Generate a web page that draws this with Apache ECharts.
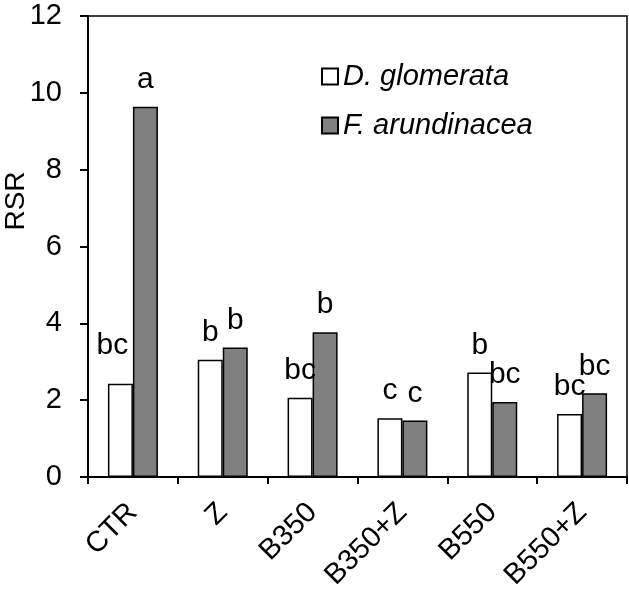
<!DOCTYPE html>
<html>
<head>
<meta charset="utf-8">
<script src="https://cdn.jsdelivr.net/npm/echarts@6/dist/echarts.min.js"></script>
<style>html,body{margin:0;padding:0;background:#fff;}#c{width:629px;height:602px;}</style>
</head>
<body>
<div id="c"></div>
<script>
var categories = ['CTR', 'Z', 'B350', 'B350+Z', 'B550', 'B550+Z'];
var seriesNames = ['D. glomerata', 'F. arundinacea'];
var glomerata = [2.43, 3.05, 2.06, 1.53, 2.72, 1.64];
var arundinacea = [9.64, 3.37, 3.77, 1.47, 1.95, 2.18];
var glomerataLetters = ['bc', 'b', 'bc', 'c', 'b', 'bc'];
var arundinaceaLetters = ['a', 'b', 'b', 'c', 'bc', 'bc'];
var yTicks = [0, 2, 4, 6, 8, 10, 12];

var FONT = 'Liberation Sans, Arial, sans-serif';

function buildData(vals, letters, special) {
  return vals.map(function (v, i) {
    var d = { value: v, label: { formatter: letters[i] } };
    if (special && special[i]) d.label.offset = special[i];
    return d;
  });
}

var chart = echarts.init(document.getElementById('c'), null, { renderer: 'canvas' });
var labelStyle = { show: true, position: 'top', distance: 12, color: '#000', fontSize: 30, fontFamily: FONT };

chart.setOption({
  animation: false,
  backgroundColor: '#fff',
  grid: { left: 88, right: 2, top: 16, bottom: 125, show: true, borderColor: '#000', borderWidth: 1.5, backgroundColor: 'transparent' },
  legend: {
    orient: 'vertical', left: 316, top: 57, itemWidth: 16, itemHeight: 16, itemGap: 20,
    icon: 'rect',
    textStyle: { fontSize: 29, fontStyle: 'italic', fontFamily: FONT, color: '#000' },
    data: seriesNames
  },
  xAxis: {
    type: 'category', data: categories,
    axisLine: { lineStyle: { color: '#000', width: 2 } },
    axisTick: { show: true, length: 7, lineStyle: { color: '#000', width: 2 } },
    axisLabel: { rotate: 45, fontSize: 29, color: '#000', fontFamily: FONT, margin: 31, interval: 0 }
  },
  yAxis: {
    type: 'value', min: yTicks[0], max: yTicks[yTicks.length - 1], interval: 2,
    splitLine: { show: false },
    axisLine: { show: true, lineStyle: { color: '#000', width: 2 } },
    axisTick: { show: true, length: 8, lineStyle: { color: '#000', width: 2 } },
    axisLabel: { fontSize: 29, color: '#000', fontFamily: FONT, margin: 26 }
  },
  graphic: [{
    type: 'text', x: 16, y: 201, rotation: Math.PI / 2,
    style: { text: 'RSR', fontSize: 28, fontFamily: FONT, fill: '#000', align: 'center', verticalAlign: 'middle' }
  }],
  series: [
    {
      name: seriesNames[0], type: 'bar', barWidth: 25, barGap: '0%',
      itemStyle: { color: '#fff', borderColor: '#000', borderWidth: 1.5 },
      label: labelStyle,
      data: buildData(glomerata, glomerataLetters, { 0: [-8, -11] })
    },
    {
      name: seriesNames[1], type: 'bar', barWidth: 25, barGap: '0%',
      itemStyle: { color: '#808080', borderColor: '#000', borderWidth: 1.5 },
      label: labelStyle,
      data: buildData(arundinacea, arundinaceaLetters)
    }
  ]
});
</script>
</body>
</html>
